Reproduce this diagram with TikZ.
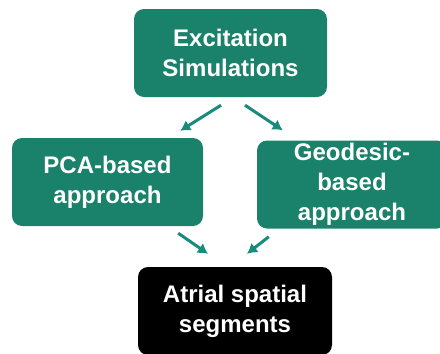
\documentclass[tikz,border=0pt]{standalone}
\usepackage{fontspec}
\setmainfont{Liberation Sans}
\usetikzlibrary{arrows.meta}
\definecolor{boxgreen}{RGB}{26,130,106}
\definecolor{arrowteal}{RGB}{24,140,124}
\tikzset{
	stepbox/.style={rounded corners=10pt,fill=boxgreen,text=white,align=center,
		inner sep=0pt,minimum height=88pt,font=\bfseries\fontsize{24}{30}\selectfont},
	link/.style={draw=arrowteal,line width=3pt,arrows={-{Latex[length=10pt,width=12pt]}}}
}
\begin{document}
\begin{tikzpicture}[x=1pt,y=-1pt]
		\useasboundingbox (0,0) rectangle (440,354);
		\clip (0,0) rectangle (440,354);
		\node[stepbox,minimum width=193pt] (sim) at (230.5,53) {Excitation\\Simulations};
		\node[stepbox,minimum width=191pt] (pca) at (107.5,182) {PCA-based\\approach};
		\node[stepbox,minimum width=190pt] (geo) at (352,184.5) {Geodesic-\\based\\approach};
		\node[stepbox,fill=black,minimum width=194pt] (seg) at (235,311) {Atrial spatial\\segments};
		\draw[link] ([xshift=-9.5pt,yshift=-8pt]sim.south) -- ([xshift=-23pt,yshift=7pt]pca.north east);
		\draw[link] ([xshift=14.5pt,yshift=-8pt]sim.south) -- ([xshift=26pt,yshift=10pt]geo.north west);
		\draw[link] ([xshift=-25pt,yshift=-7pt]pca.south east) -- ([xshift=-27pt,yshift=13pt]seg.north);
		\draw[link] ([xshift=12pt,yshift=-8pt]geo.south west) -- ([xshift=12pt,yshift=13pt]seg.north);
	\end{tikzpicture}
\end{document}
